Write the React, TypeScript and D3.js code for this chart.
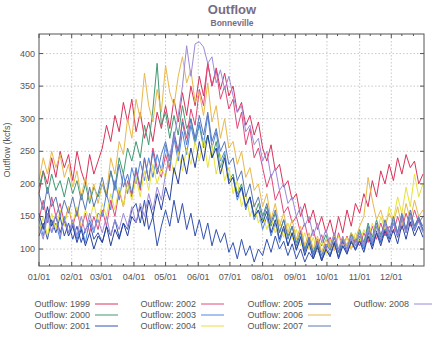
import React from "react";
import * as d3 from "d3";

const monthLabels = ["01/01","02/01","03/01","04/01","05/01","06/01","07/01","08/01","09/01","10/01","11/01","12/01"];
const monthStarts = [0,31,59,90,120,151,181,212,243,273,304,334];
const yTicks = [100,150,200,250,300,350,400];
const years = ["1999","2000","2001","2002","2003","2004","2005","2006","2007","2008"];
const colors = ["#d8345c","#3f9a72","#3452b0","#e0487a","#4f86e0","#e6e23a","#27409c","#e8b84a","#5a78b6","#9c8ad8"];
const stepDays = 4;

// values every 4 days (day 0,4,...,364), kcfs
const s1999 = [185,220,200,240,210,250,225,245, 205,250,220,200,245,215,235, 255,290,265,305,280,325,295,330, 280,310,270,295,265,310,285, 320,285,330,295,340,305,350,320, 365,335,385,350,378,345,370,335, 350,310,325,290,305,275,295, 255,235,260,220,230,195,205,175, 185,150,170,140,160,130,150,125, 145,118,150,125,160,135,170, 155,185,165,205,180,220,200,230, 205,240,215,245,225,235,200,215];
const s2000 = [195,220,185,215,190,205,180,210, 185,205,175,200,170,195,180, 200,180,220,195,240,215,255,235, 265,240,290,260,315,385,290, 310,270,305,275,320,285,300,265, 290,255,275,240,265,225,245,205, 215,185,200,165,180,150,170, 145,165,135,155,125,145,120,135, 110,128,100,118,95,115,105,122, 100,120,95,118,105,125,110, 130,110,140,118,145,122,138,118, 145,125,150,130,155,135,148,128];
const s2001 = [120,140,115,145,125,150,120,140, 115,135,110,130,140,115,125, 110,135,120,145,118,140,130,160, 170,140,175,130,150,105,135, 160,135,175,140,170,130,155,120, 145,115,140,105,130,110,125,95, 110,85,115,90,105,80,100, 90,115,95,120,100,112,90,108, 85,100,80,95,85,102,82,98, 90,108,88,112,95,110,100, 115,100,125,105,128,110,132,115, 140,118,145,125,150,128,145,130];
const s2002 = [145,175,140,180,150,170,140,165, 135,160,130,155,125,150,130, 160,135,175,150,190,165,205,180, 220,190,240,205,255,225,210, 245,220,275,245,300,270,315,290, 345,320,385,350,375,330,350,315, 330,285,310,260,285,240,255, 225,195,215,175,190,155,165,140, 150,125,140,110,130,105,122,100, 118,98,125,102,120,100,115, 105,125,110,135,115,140,120,135, 125,150,130,155,135,160,140,150];
const s2003 = [145,120,155,125,140,115,150,125, 140,115,135,110,145,125,155, 150,185,160,205,175,215,185,225, 200,235,205,240,210,245,220, 260,225,270,235,280,245,290,260, 295,260,305,255,280,235,250,205, 210,175,195,160,180,145,160, 130,150,120,140,110,130,105,125, 100,120,95,115,90,108,85,105, 92,112,88,105,95,115,100, 120,100,128,108,135,112,140,118, 145,120,150,128,155,132,148,135];
const s2004 = [125,150,120,155,130,160,135,165, 140,165,135,160,145,170,140, 170,150,185,160,195,165,200,175, 210,180,220,190,230,200,225, 210,245,215,250,220,255,230,265, 235,270,225,260,215,245,205,225, 185,205,165,185,150,170,140, 155,130,150,125,145,118,140,115, 130,105,125,100,118,95,112,92, 115,98,120,102,118,100,125, 110,130,115,140,120,150,130,165, 145,180,155,195,165,215,180,200];
const s2005 = [155,130,165,135,150,125,145,120, 135,110,130,105,125,100,120, 110,135,105,130,115,140,120,150, 140,165,135,175,150,185,160, 195,175,225,200,245,215,255,225, 265,235,275,240,255,215,240,200, 210,180,195,165,180,150,160, 140,158,125,145,115,135,105,125, 98,118,90,110,85,105,82,100, 88,110,85,105,92,112,98, 112,95,120,100,125,105,128,110, 130,108,138,115,142,120,135,118];
const s2006 = [205,240,215,250,225,245,210,230, 195,220,180,210,175,200,170, 200,185,240,215,265,245,300,270, 330,300,370,320,295,345,310, 382,340,320,365,395,355,375,325, 340,305,355,295,320,270,300,255, 265,230,250,210,225,190,200, 165,185,145,170,135,155,125,145, 115,135,105,125,100,120,95,115, 100,120,98,118,105,125,115, 135,150,210,175,145,160,135,155, 140,165,135,170,145,175,150,160];
const s2007 = [185,160,195,165,180,150,175,155, 180,150,185,160,195,165,185, 210,180,220,190,230,195,215,185, 225,195,240,205,250,215,245, 265,235,280,250,295,260,300,270, 305,275,310,265,285,250,265,230, 240,205,220,180,200,165,180, 150,170,140,160,125,145,115,135, 105,125,98,118,92,112,90,108, 98,118,95,115,100,122,105, 125,105,135,112,140,118,145,125, 150,125,155,130,160,135,150,128];
const s2008 = [135,115,150,125,155,120,145,125, 145,120,150,125,155,130,145, 125,150,120,145,130,155,135,165, 140,170,150,185,160,195,175, 215,245,270,305,350,412,365,415, 418,410,385,395,355,375,345,365, 335,310,320,280,290,260,270, 235,250,210,225,190,200,170,180, 150,165,135,150,120,140,110,130, 105,125,100,120,98,118,105, 125,105,130,112,135,115,140,120, 140,120,148,125,150,130,142,125];

const seriesValues = [s1999,s2000,s2001,s2002,s2003,s2004,s2005,s2006,s2007,s2008];

export default function App() {
  const W = 432, H = 338;
  const x = d3.scaleLinear().domain([0, 365]).range([39, 424]);
  const y = d3.scaleLinear().domain([74, 430]).range([266, 34]);
  const line = d3.line<number>().x((_, i) => x(i * stepDays)).y(v => y(v));
  const minorDays: number[] = [];
  monthStarts.forEach((m, i) => {
    const next = i < 11 ? monthStarts[i + 1] : 365;
    const len = next - m;
    minorDays.push(m + Math.round(len / 3), m + Math.round((2 * len) / 3));
  });
  const font = "Liberation Sans, Arial, sans-serif";
  const gray = "#555";
  const [x0, x1] = x.range();
  const [yb, yt] = y.range();
  const legendCols = [[0,1,2],[3,4,5],[6,7,8],[9]];
  const colTextEnd = [90, 196, 303, 409];
  const rowY = [304, 315, 326];
  return (
    <svg width={W} height={H} style={{ position: "absolute", left: 0, top: 0, background: "#fff" }} fontFamily={font}>
      <text x={232} y={14} textAnchor="middle" fontSize={13} fontWeight="bold" fill="#786b84">Outflow</text>
      <text x={232} y={26} textAnchor="middle" fontSize={8.5} fontWeight="bold" fill="#786b84">Bonneville</text>
      {monthStarts.slice(1).map(d => (
        <line key={"gx" + d} x1={x(d)} x2={x(d)} y1={yt} y2={yb} stroke="#bbb" strokeWidth={0.8} strokeDasharray="1.5,2" />
      ))}
      {yTicks.map(v => (
        <line key={"gy" + v} x1={x0} x2={x1} y1={y(v)} y2={y(v)} stroke="#bbb" strokeWidth={0.8} strokeDasharray="1.5,2" />
      ))}
      {seriesValues.map((vals, k) => (
        <path key={years[k]} d={line(vals) || ""} fill="none" stroke={colors[k]} strokeWidth={1} strokeLinejoin="round" />
      ))}
      <rect x={x0} y={yt} width={x1 - x0} height={yb - yt} fill="none" stroke="#555" strokeWidth={1} />
      {monthStarts.map((d, i) => (
        <g key={"tx" + d}>
          <line x1={x(d)} x2={x(d)} y1={yb} y2={yb - 4} stroke="#555" />
          <line x1={x(d)} x2={x(d)} y1={yt} y2={yt + 4} stroke="#555" />
          <text x={x(d)} y={yb + 14} textAnchor="middle" fontSize={9} fill={gray}>{monthLabels[i]}</text>
        </g>
      ))}
      {minorDays.map(d => (
        <g key={"mx" + d}>
          <line x1={x(d)} x2={x(d)} y1={yb} y2={yb - 2} stroke="#555" />
          <line x1={x(d)} x2={x(d)} y1={yt} y2={yt + 2} stroke="#555" />
        </g>
      ))}
      {yTicks.map(v => (
        <g key={"ty" + v}>
          <line x1={x0} x2={x0 + 4} y1={y(v)} y2={y(v)} stroke="#555" />
          <line x1={x1} x2={x1 - 4} y1={y(v)} y2={y(v)} stroke="#555" />
          <text x={x0 - 4} y={y(v) + 3} textAnchor="end" fontSize={9} fill={gray}>{v}</text>
        </g>
      ))}
      <text transform={`translate(10,${(yt + yb) / 2}) rotate(-90)`} textAnchor="middle" fontSize={9} fill={gray}>Outflow (kcfs)</text>
      {legendCols.map((col, c) => col.map((k, r) => (
        <g key={"lg" + k}>
          <text x={colTextEnd[c]} y={rowY[r] + 3} textAnchor="end" fontSize={9} fill={gray}>{"Outflow: " + years[k]}</text>
          <line x1={colTextEnd[c] + 5} x2={colTextEnd[c] + 28} y1={rowY[r]} y2={rowY[r]} stroke={colors[k]} strokeWidth={1} />
        </g>
      )))}
    </svg>
  );
}
